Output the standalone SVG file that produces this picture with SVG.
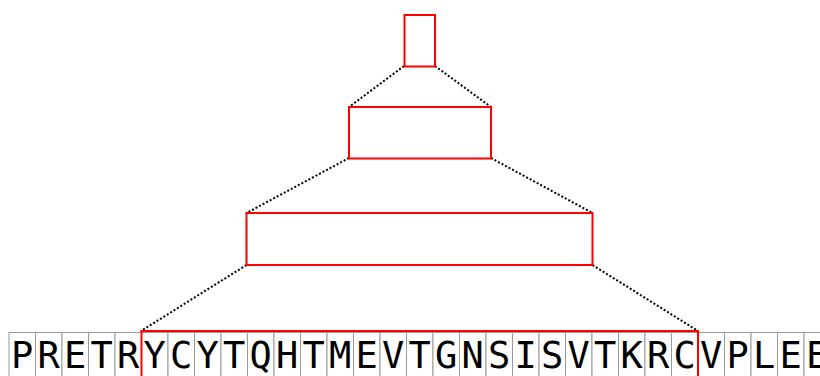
<svg xmlns="http://www.w3.org/2000/svg" width="820" height="376" viewBox="0 0 820 376">
<style>
.box{fill:none;stroke:#ff0000;stroke-width:2}
.dot{fill:none;stroke:#000;stroke-width:2;stroke-dasharray:2 2}
.cell{fill:#fff;stroke:#999;stroke-width:1}
.ch{font-family:"DejaVu Sans Mono",monospace;font-size:37px;fill:#000;text-anchor:middle}
</style>
<rect width="820" height="376" fill="#fff"/>
<g id="sequence">
<rect class="cell" x="9" y="332.5" width="26.5" height="60"/><text class="ch" x="22.25" y="368">P</text>
<rect class="cell" x="35.5" y="332.5" width="26.5" height="60"/><text class="ch" x="48.75" y="368">R</text>
<rect class="cell" x="62" y="332.5" width="26.5" height="60"/><text class="ch" x="75.25" y="368">E</text>
<rect class="cell" x="88.5" y="332.5" width="26.5" height="60"/><text class="ch" x="101.75" y="368">T</text>
<rect class="cell" x="115" y="332.5" width="26.5" height="60"/><text class="ch" x="128.25" y="368">R</text>
<rect class="cell" x="141.5" y="332.5" width="26.5" height="60"/><text class="ch" x="154.75" y="368">Y</text>
<rect class="cell" x="168" y="332.5" width="26.5" height="60"/><text class="ch" x="181.25" y="368">C</text>
<rect class="cell" x="194.5" y="332.5" width="26.5" height="60"/><text class="ch" x="207.75" y="368">Y</text>
<rect class="cell" x="221" y="332.5" width="26.5" height="60"/><text class="ch" x="234.25" y="368">T</text>
<rect class="cell" x="247.5" y="332.5" width="26.5" height="60"/><text class="ch" x="260.75" y="368">Q</text>
<rect class="cell" x="274" y="332.5" width="26.5" height="60"/><text class="ch" x="287.25" y="368">H</text>
<rect class="cell" x="300.5" y="332.5" width="26.5" height="60"/><text class="ch" x="313.75" y="368">T</text>
<rect class="cell" x="327" y="332.5" width="26.5" height="60"/><text class="ch" x="340.25" y="368">M</text>
<rect class="cell" x="353.5" y="332.5" width="26.5" height="60"/><text class="ch" x="366.75" y="368">E</text>
<rect class="cell" x="380" y="332.5" width="26.5" height="60"/><text class="ch" x="393.25" y="368">V</text>
<rect class="cell" x="406.5" y="332.5" width="26.5" height="60"/><text class="ch" x="419.75" y="368">T</text>
<rect class="cell" x="433" y="332.5" width="26.5" height="60"/><text class="ch" x="446.25" y="368">G</text>
<rect class="cell" x="459.5" y="332.5" width="26.5" height="60"/><text class="ch" x="472.75" y="368">N</text>
<rect class="cell" x="486" y="332.5" width="26.5" height="60"/><text class="ch" x="499.25" y="368">S</text>
<rect class="cell" x="512.5" y="332.5" width="26.5" height="60"/><text class="ch" x="525.75" y="368">I</text>
<rect class="cell" x="539" y="332.5" width="26.5" height="60"/><text class="ch" x="552.25" y="368">S</text>
<rect class="cell" x="565.5" y="332.5" width="26.5" height="60"/><text class="ch" x="578.75" y="368">V</text>
<rect class="cell" x="592" y="332.5" width="26.5" height="60"/><text class="ch" x="605.25" y="368">T</text>
<rect class="cell" x="618.5" y="332.5" width="26.5" height="60"/><text class="ch" x="631.75" y="368">K</text>
<rect class="cell" x="645" y="332.5" width="26.5" height="60"/><text class="ch" x="658.25" y="368">R</text>
<rect class="cell" x="671.5" y="332.5" width="26.5" height="60"/><text class="ch" x="684.75" y="368">C</text>
<rect class="cell" x="698" y="332.5" width="26.5" height="60"/><text class="ch" x="711.25" y="368">V</text>
<rect class="cell" x="724.5" y="332.5" width="26.5" height="60"/><text class="ch" x="737.75" y="368">P</text>
<rect class="cell" x="751" y="332.5" width="26.5" height="60"/><text class="ch" x="764.25" y="368">L</text>
<rect class="cell" x="777.5" y="332.5" width="26.5" height="60"/><text class="ch" x="790.75" y="368">E</text>
<rect class="cell" x="804" y="332.5" width="26.5" height="60"/><text class="ch" x="817.25" y="368">E</text>
</g>
<g id="connectors">
<line class="dot" x1="404" y1="66" x2="349" y2="107"/>
<line class="dot" x1="435" y1="66" x2="491" y2="107"/>
<line class="dot" x1="349" y1="158" x2="246.5" y2="213"/>
<line class="dot" x1="491" y1="158" x2="592.5" y2="213"/>
<line class="dot" x1="246.5" y1="265" x2="141" y2="331"/>
<line class="dot" x1="592.5" y1="265" x2="698" y2="331"/>
</g>
<g id="node-top"><rect class="box" x="404.5" y="15" width="30.5" height="51.5"/></g>
<g id="node-mid"><rect class="box" x="349" y="107" width="142" height="51.5"/></g>
<g id="node-low"><rect class="box" x="246.5" y="213" width="346" height="52"/></g>
<g id="node-seq"><rect class="box" x="141.5" y="331" width="556.5" height="60"/></g>
</svg>
